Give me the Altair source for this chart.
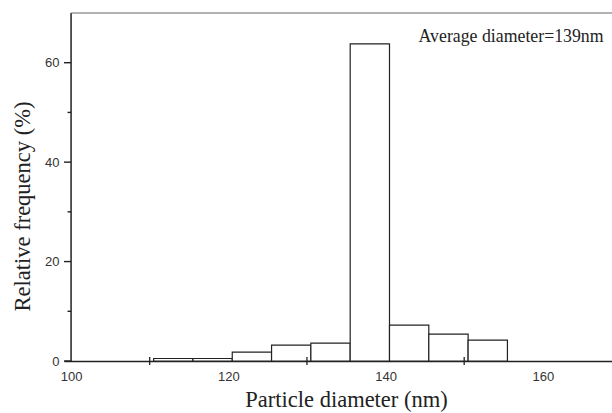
import altair as alt
import pandas as pd

# Histogram data
bin_start = [110.5, 115.5, 120.5, 125.5, 130.5, 135.5, 140.5, 145.5, 150.5]
bin_end = [115.5, 120.5, 125.5, 130.5, 135.5, 140.5, 145.5, 150.5, 155.5]
rel_freq = [0.5, 0.5, 1.8, 3.2, 3.6, 63.8, 7.2, 5.4, 4.2]

x_tick_labels = [100, 120, 140, 160]
x_minor_ticks = [110, 130, 150]
y_major_ticks = [0, 20, 40, 60]
y_minor_ticks = [10, 30, 50]

annotation_text = "Average diameter=139nm"
annotation_x = 144.2
annotation_y = 64.2

X_START = 100          # where the y axis line sits
X_DOMAIN = [99.1, 168.8]  # a little room left of the y axis for its outward ticks
Y_DOMAIN = [0, 70]

bars_df = pd.DataFrame({"start": bin_start, "end": bin_end, "freq": rel_freq})
xminor_df = pd.DataFrame({"x": x_minor_ticks})
yticks_df = pd.DataFrame({
    "y": y_major_ticks + y_minor_ticks,
    "x0": [X_START] * (len(y_major_ticks) + len(y_minor_ticks)),
    "x1": [X_DOMAIN[0]] * len(y_major_ticks) + [X_START - 0.45] * len(y_minor_ticks),
})

x_scale = alt.Scale(domain=X_DOMAIN, nice=False, zero=False)
y_scale = alt.Scale(domain=Y_DOMAIN, nice=False)

x_axis = alt.Axis(
    title="Particle diameter (nm)",
    values=x_tick_labels,
    ticks=False,
    tickSize=0,
    grid=False,
    labelFlush=False,
    domainColor="#222",
    domainWidth=1.5,
    labelFont="Liberation Sans",
    labelFontSize=13,
    labelColor="#333",
    labelPadding=9,
    titleFont="Liberation Serif",
    titleFontSize=22.5,
    titleFontWeight="normal",
    titleColor="#222",
    titleX=282,
    titleY=45,
    titleBaseline="alphabetic",
    titleAlign="center",
)

y_axis = alt.Axis(
    title="Relative frequency (%)",
    values=y_major_ticks,
    grid=False,
    ticks=False,
    tickSize=0,
    domain=False,
    labelFont="Liberation Sans",
    labelFontSize=13,
    labelColor="#333",
    labelPadding=5,
    labelFlush=False,
    titleFont="Liberation Serif",
    titleFontSize=22.5,
    titleFontWeight="normal",
    titleColor="#222",
    titleAngle=-90,
    titleX=-42,
    titleY=193,
    titleAlign="center",
    titleBaseline="middle",
)

bars = alt.Chart(bars_df).mark_rect(
    fill="white", stroke="#222", strokeWidth=1.2
).encode(
    x=alt.X("start:Q", scale=x_scale, axis=x_axis),
    x2="end:Q",
    y=alt.Y("freq:Q", scale=y_scale, axis=y_axis),
    y2=alt.datum(0),
)

# y axis line at x = 100
y_line = alt.Chart(pd.DataFrame({"x": [X_START]})).mark_rule(
    color="#222", strokeWidth=1.5
).encode(x=alt.X("x:Q", scale=x_scale))

# small tick marks crossing the x axis at 110, 130, 150
xminor = alt.Chart(xminor_df).mark_rule(
    color="#222", strokeWidth=1.3, clip=False, yOffset=4, y2Offset=-4
).encode(
    x=alt.X("x:Q", scale=x_scale),
    y=alt.datum(0),
    y2=alt.datum(0),
)

# y-axis ticks (major and minor) pointing left from the axis line
yticks = alt.Chart(yticks_df).mark_rule(
    color="#222", strokeWidth=1.4
).encode(
    y=alt.Y("y:Q", scale=y_scale),
    x=alt.X("x0:Q", scale=x_scale),
    x2="x1:Q",
)

top_line = alt.Chart(pd.DataFrame({"y": [Y_DOMAIN[1]], "x0": [X_START], "x1": [X_DOMAIN[1]]})).mark_rule(
    color="#666", strokeWidth=1
).encode(
    y=alt.Y("y:Q", scale=y_scale),
    x=alt.X("x0:Q", scale=x_scale),
    x2="x1:Q",
)

label = alt.Chart(pd.DataFrame({"x": [annotation_x], "y": [annotation_y], "t": [annotation_text]})).mark_text(
    align="left", baseline="alphabetic", font="Liberation Serif", fontSize=17.8, color="#222"
).encode(
    x=alt.X("x:Q", scale=x_scale),
    y=alt.Y("y:Q", scale=y_scale),
    text="t:N",
)

chart = alt.layer(bars, y_line, xminor, yticks, top_line, label).properties(
    width=548,
    height=348,
    autosize=alt.AutoSizeParams(type="none"),
    padding={"left": 64, "top": 13, "right": 0, "bottom": 52},
    background="white",
).configure_view(stroke=None)

chart.save("out.html", embed_options={"renderer": "svg", "actions": False})
